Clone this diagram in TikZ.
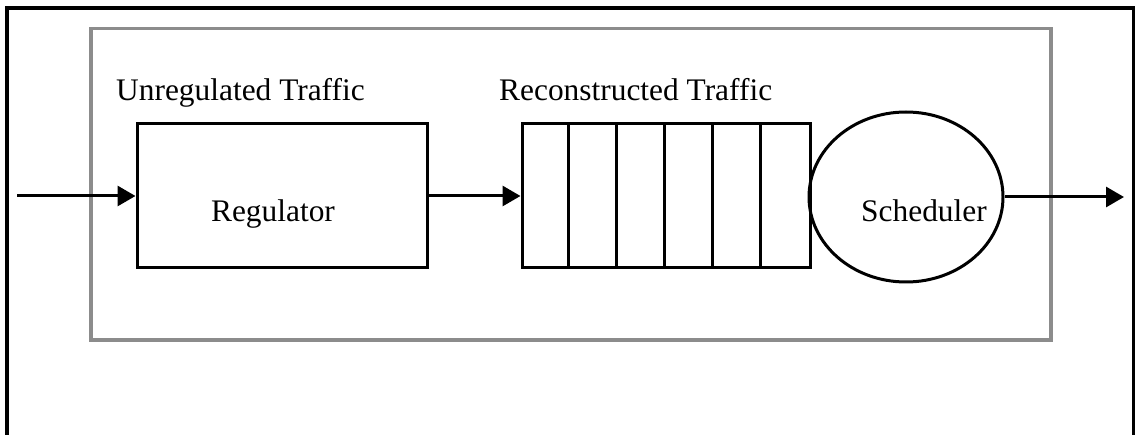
\documentclass[tikz,border=0pt]{standalone}
\usepackage{fontspec}
\setmainfont{Liberation Serif}
\usetikzlibrary{arrows.meta,shapes.geometric}
\definecolor{framegray}{HTML}{8C8C8C}
\tikzset{
  blk/.style={draw=black,line width=3pt,inner sep=0pt},
  box/.style={blk,rectangle,minimum width=290pt,minimum height=144pt},
  queuebox/.style={blk,rectangle,minimum width=288pt,minimum height=144pt},
  sched/.style={blk,ellipse,minimum width=194pt,minimum height=170pt},
  lbl/.style={inner sep=0pt,font=\fontsize{31.4}{37}\selectfont},
  conn/.style={line width=3pt,-{Triangle[length=18pt,width=20pt]}},
  divider/.style={line width=3pt}
}
\begin{document}
\begin{tikzpicture}[x=1pt,y=-1pt]
\useasboundingbox (0,0) rectangle (1136,435);
\clip (0,0) rectangle (1136,435);
\fill[white] (0,0) rectangle (1136,435);
% outer frame (bottom edge lies beyond the picture)
\draw[line width=3.2pt] (7,8) rectangle (1133.5,460);
% inner gray frame
\draw[framegray,line width=3.2pt] (91,28.5) rectangle (1051,340);
% nodes
\node[box] (reg) at (282,196) {};
\node[queuebox] (queue) at (666,196) {};
\foreach \i in {1,...,5}
  \draw[divider] ([xshift=48*\i pt]queue.north west) -- ([xshift=48*\i pt]queue.south west);
\node[sched] (sch) at (906,197) {};
\coordinate (in) at (17,196);
\coordinate (out) at (1124,197);
% texts
\node[lbl,anchor=base] (regtxt) at (273,222) {Regulator};
\node[lbl,anchor=base] (schtxt) at (924,222) {Scheduler};
\node[lbl,anchor=base west] (untxt) at (116,101) {Unregulated Traffic};
\node[lbl,anchor=base west] (retxt) at (499,101) {Reconstructed Traffic};
% connectors
\draw[conn] (in) -- (reg.west);
\draw[conn] (reg.east) -- (queue.west);
\draw[conn] (sch.east) -- (out);
\end{tikzpicture}
\end{document}
